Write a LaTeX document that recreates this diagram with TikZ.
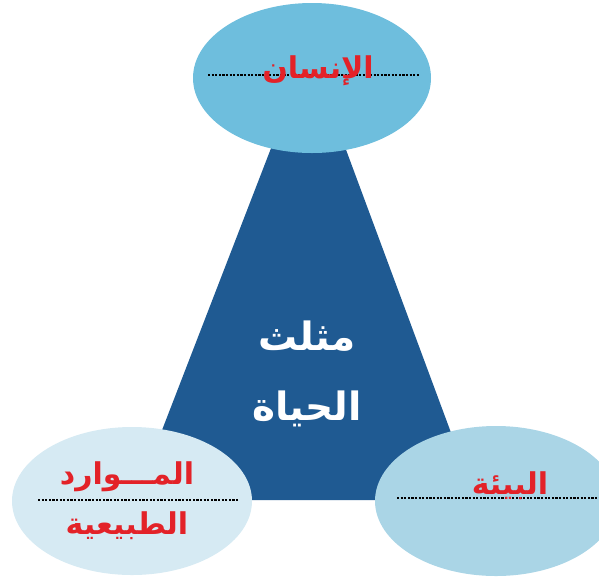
\documentclass[tikz,border=0pt]{standalone}
\usepackage{fontspec}
\newfontfamily\arabicfont[Script=Arabic]{DejaVu Sans}
\TeXXeTstate=1
\usetikzlibrary{
  shapes.geometric,
  calc
}
\definecolor{triblue}{HTML}{1F5A92}
\definecolor{topblue}{HTML}{6EBEDD}
\definecolor{leftblue}{HTML}{D6EAF3}
\definecolor{rightblue}{HTML}{AAD5E6}
\definecolor{labelred}{HTML}{E32228}
\tikzset{
  bubble/.style={
    ellipse,
    inner sep=0pt,
    minimum width=238pt,
    minimum height=150pt
  },
  guide/.style={
    dash pattern=on 2.2pt off 1.4pt,
    line width=2pt,
    black
  },
  redlabel/.style={
    text=labelred,
    anchor=base,
    font=\arabicfont\bfseries\fontsize{30}{34}\selectfont
  },
  whitelabel/.style={
    text=white,
    anchor=base,
    font=\arabicfont\bfseries\fontsize{39}{44}\selectfont
  }
}

\begin{document}
\begin{tikzpicture}[x=1pt,y=-1pt]
  \useasboundingbox (0,0) rectangle (599,579);
  \clip (0,0) rectangle (599,579);
  % the triangle of life
  \fill[triblue] (309,50) -- (135,500) -- (476,500) -- cycle;
  \node[whitelabel] (tri1) at (307,350) {\beginR مثلث\endR};
  \node[whitelabel] (tri2) at (307,420) {\beginR الحياة\endR};
  % the three corners
  \node[bubble, fill=topblue] (man) at (312,78) {};
  \node[bubble, fill=leftblue, minimum width=240pt, minimum height=148pt] (res) at (132,501) {};
  \node[bubble, fill=rightblue, minimum width=242pt] (env) at (496,501) {};
  \draw[guide] ($(man.center)+(-104,-3)$) -- ($(man.center)+(108,-3)$);
  \draw[guide] ($(res.center)+(-94,-1)$) -- ($(res.center)+(106,-1)$);
  \draw[guide] ($(env.center)+(-99,-3)$) -- ($(env.center)+(110,-3)$);
  \node[redlabel] (manlabel) at (318,78) {\beginR الإنسان\endR};
  \node[redlabel] (reslabel1) at (127,484) {\beginR المـــوارد\endR};
  \node[redlabel] (reslabel2) at (127,534) {\beginR الطبيعية\endR};
  \node[redlabel] (envlabel) at (510,494) {\beginR البيئة\endR};
\end{tikzpicture}
\end{document}
